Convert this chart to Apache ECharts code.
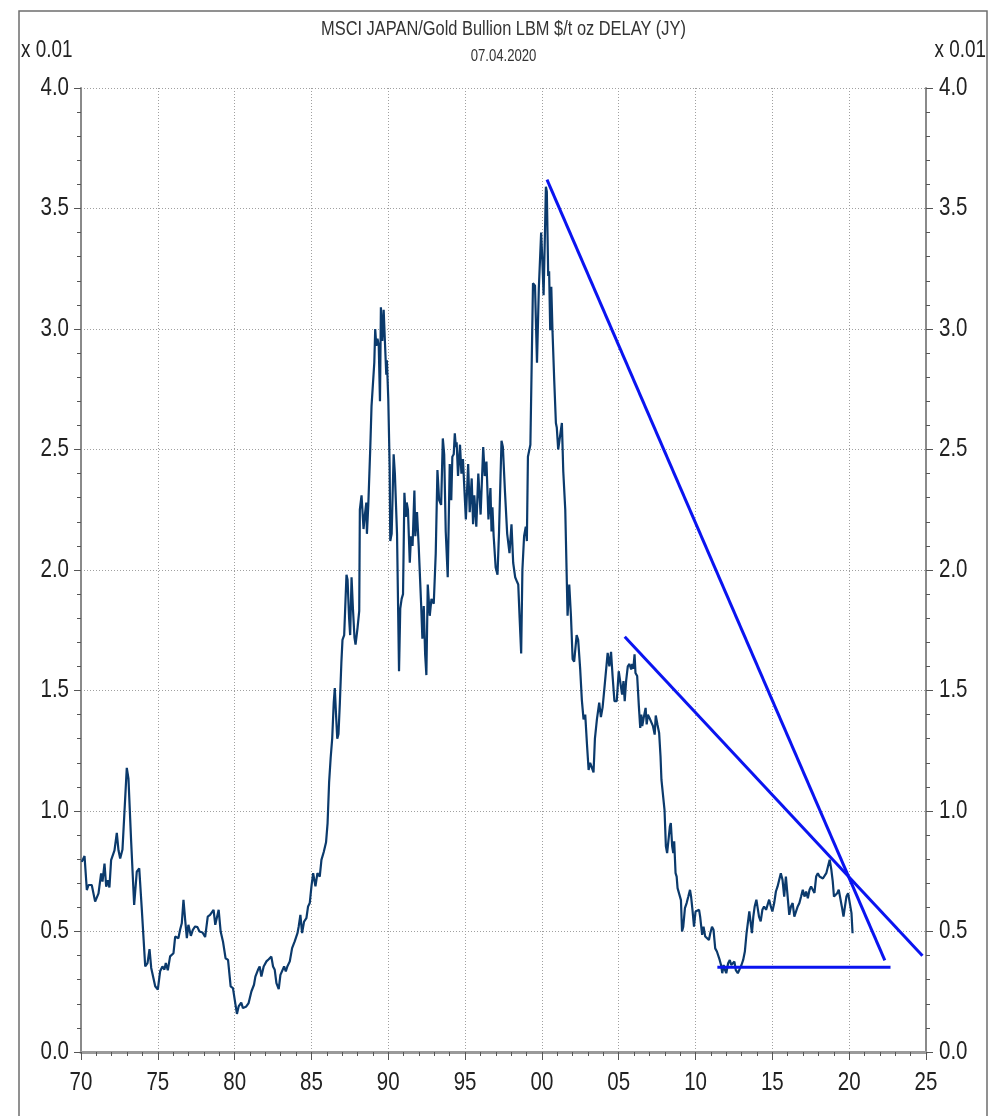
<!DOCTYPE html>
<html>
<head>
<meta charset="utf-8">
<title>MSCI JAPAN / Gold Bullion</title>
<script src="https://cdn.jsdelivr.net/npm/echarts/dist/echarts.min.js"></script>
<style>
  html, body { margin: 0; padding: 0; background: #ffffff; }
  #chart { width: 1002px; height: 1116px; }
</style>
</head>
<body>
<div id="chart"></div>
<script>
// MSCI Japan priced in gold (LBM $/t oz), scaled by 0.01
const years = [
  1970.05, 1970.23, 1970.38, 1970.49, 1970.70, 1970.92, 1971.14, 1971.31, 1971.40, 1971.53,
  1971.64, 1971.75, 1971.85, 1971.96, 1972.18, 1972.33, 1972.44, 1972.55, 1972.70, 1972.81,
  1972.98, 1973.09, 1973.26, 1973.46, 1973.63, 1973.79, 1973.96, 1974.18, 1974.33, 1974.46,
  1974.57, 1974.70, 1974.83, 1975.00, 1975.15, 1975.30, 1975.43, 1975.52, 1975.65, 1975.80,
  1976.02, 1976.13, 1976.34, 1976.45, 1976.56, 1976.67, 1976.78, 1976.89, 1976.99, 1977.15,
  1977.28, 1977.43, 1977.58, 1977.71, 1977.91, 1978.08, 1978.25, 1978.40, 1978.52, 1978.63,
  1978.74, 1978.96, 1979.09, 1979.24, 1979.41, 1979.57, 1979.74, 1979.89, 1980.04, 1980.15,
  1980.26, 1980.43, 1980.54, 1980.76, 1980.91, 1981.09, 1981.26, 1981.35, 1981.52, 1981.63,
  1981.74, 1981.89, 1982.07, 1982.22, 1982.39, 1982.50, 1982.61, 1982.72, 1982.87, 1982.98,
  1983.09, 1983.22, 1983.33, 1983.43, 1983.59, 1983.74, 1983.91, 1984.09, 1984.17, 1984.28,
  1984.39, 1984.52, 1984.67, 1984.78, 1984.89, 1985.00, 1985.11, 1985.26, 1985.39, 1985.54,
  1985.65, 1985.80, 1985.95, 1986.05, 1986.15, 1986.25, 1986.35, 1986.45, 1986.52, 1986.60,
  1986.68, 1986.76, 1986.85, 1986.95, 1987.02, 1987.13, 1987.28, 1987.35, 1987.45, 1987.52,
  1987.61, 1987.70, 1987.80, 1987.87, 1988.00, 1988.11, 1988.15, 1988.26, 1988.39, 1988.48,
  1988.57, 1988.61, 1988.70, 1988.83, 1988.91, 1989.09, 1989.15, 1989.22, 1989.30, 1989.38,
  1989.46, 1989.52, 1989.61, 1989.70, 1989.78, 1989.87, 1989.91, 1990.00, 1990.09, 1990.13,
  1990.22, 1990.35, 1990.43, 1990.57, 1990.70, 1990.78, 1990.87, 1990.96, 1991.05, 1991.14,
  1991.20, 1991.28, 1991.40, 1991.48, 1991.58, 1991.70, 1991.76, 1991.87, 1991.98, 1992.14,
  1992.22, 1992.31, 1992.40, 1992.48, 1992.57, 1992.70, 1992.81, 1992.96, 1993.09, 1993.20,
  1993.31, 1993.44, 1993.55, 1993.64, 1993.74, 1993.87, 1994.00, 1994.10, 1994.17, 1994.26,
  1994.33, 1994.40, 1994.45, 1994.54, 1994.67, 1994.76, 1994.86, 1995.05, 1995.20, 1995.30,
  1995.43, 1995.52, 1995.60, 1995.73, 1995.86, 1996.01, 1996.18, 1996.28, 1996.39, 1996.52,
  1996.65, 1996.72, 1996.78, 1996.86, 1996.99, 1997.11, 1997.21, 1997.37, 1997.46, 1997.60,
  1997.74, 1997.89, 1998.02, 1998.13, 1998.26, 1998.39, 1998.46, 1998.55, 1998.65, 1998.73,
  1998.84, 1998.95, 1999.02, 1999.09, 1999.25, 1999.33, 1999.42, 1999.55, 1999.68, 1999.80,
  1999.95, 2000.02, 2000.11, 2000.20, 2000.26, 2000.32, 2000.41, 2000.47, 2000.54, 2000.61,
  2000.69, 2000.80, 2000.91, 2000.97, 2001.06, 2001.18, 2001.30, 2001.39, 2001.52, 2001.67,
  2001.78, 2001.89, 2002.00, 2002.10, 2002.26, 2002.36, 2002.49, 2002.60, 2002.71, 2002.82,
  2002.93, 2003.04, 2003.14, 2003.25, 2003.36, 2003.45, 2003.58, 2003.73, 2003.84, 2003.95,
  2004.06, 2004.17, 2004.28, 2004.39, 2004.50, 2004.60, 2004.72, 2004.87, 2005.00, 2005.10,
  2005.22, 2005.31, 2005.39, 2005.48, 2005.59, 2005.70, 2005.81, 2005.88, 2005.95, 2006.03,
  2006.09, 2006.20, 2006.31, 2006.40, 2006.47, 2006.53, 2006.62, 2006.75, 2006.82, 2006.90,
  2007.01, 2007.12, 2007.23, 2007.34, 2007.41, 2007.52, 2007.63, 2007.72, 2007.78, 2007.89,
  2007.98, 2008.07, 2008.15, 2008.26, 2008.33, 2008.39, 2008.48, 2008.55, 2008.61, 2008.70,
  2008.77, 2008.83, 2008.94, 2009.05, 2009.12, 2009.20, 2009.31, 2009.42, 2009.53, 2009.64,
  2009.71, 2009.80, 2009.90, 2010.00, 2010.12, 2010.23, 2010.30, 2010.43, 2010.52, 2010.63,
  2010.74, 2010.87, 2010.96, 2011.07, 2011.17, 2011.28, 2011.39, 2011.48, 2011.57, 2011.66,
  2011.74, 2011.83, 2011.92, 2012.00, 2012.12, 2012.23, 2012.32, 2012.40, 2012.53, 2012.62,
  2012.75, 2012.88, 2012.99, 2013.10, 2013.21, 2013.32, 2013.41, 2013.50, 2013.58, 2013.67,
  2013.76, 2013.85, 2013.96, 2014.02, 2014.13, 2014.24, 2014.35, 2014.46, 2014.59, 2014.68,
  2014.79, 2014.90, 2015.00, 2015.12, 2015.23, 2015.34, 2015.45, 2015.55, 2015.66, 2015.77,
  2015.88, 2015.99, 2016.10, 2016.21, 2016.32, 2016.43, 2016.54, 2016.65, 2016.76, 2016.87,
  2016.98, 2017.09, 2017.20, 2017.31, 2017.42, 2017.52, 2017.63, 2017.74, 2017.85, 2017.96,
  2018.07, 2018.18, 2018.29, 2018.40, 2018.51, 2018.62, 2018.73, 2018.84, 2018.93, 2019.01,
  2019.12, 2019.22, 2019.32, 2019.41, 2019.52, 2019.63, 2019.71, 2019.82, 2019.93, 2020.04,
  2020.15, 2020.22
];

const ratio = [
  0.789, 0.813, 0.672, 0.693, 0.693, 0.624, 0.658, 0.741, 0.707, 0.782,
  0.686, 0.713, 0.683, 0.796, 0.837, 0.909, 0.837, 0.803, 0.840, 0.844,
  1.179, 1.134, 0.879, 0.610, 0.748, 0.762, 0.590, 0.355, 0.369, 0.427,
  0.349, 0.342, 0.273, 0.259, 0.335, 0.355, 0.342, 0.369, 0.339, 0.397,
  0.410, 0.479, 0.472, 0.507, 0.534, 0.631, 0.548, 0.472, 0.528, 0.482,
  0.507, 0.521, 0.518, 0.500, 0.496, 0.477, 0.562, 0.569, 0.576, 0.590,
  0.528, 0.590, 0.500, 0.459, 0.389, 0.382, 0.272, 0.265, 0.203, 0.158,
  0.189, 0.205, 0.182, 0.189, 0.203, 0.251, 0.279, 0.313, 0.341, 0.355,
  0.313, 0.355, 0.376, 0.385, 0.396, 0.355, 0.341, 0.286, 0.261, 0.320,
  0.327, 0.355, 0.334, 0.355, 0.376, 0.431, 0.459, 0.493, 0.521, 0.569,
  0.493, 0.541, 0.555, 0.604, 0.618, 0.687, 0.742, 0.687, 0.742, 0.728,
  0.797, 0.830, 0.870, 0.950, 1.120, 1.220, 1.300, 1.450, 1.510, 1.400,
  1.300, 1.320, 1.450, 1.620, 1.710, 1.730, 1.980, 1.960, 1.800, 1.730,
  1.970, 1.840, 1.720, 1.690, 1.760, 1.830, 2.250, 2.310, 2.170, 2.230,
  2.280, 2.150, 2.270, 2.510, 2.680, 2.860, 3.000, 2.930, 2.960, 2.930,
  2.700, 3.090, 2.950, 3.080, 2.950, 2.810, 2.870, 2.710, 2.430, 2.120,
  2.150, 2.480, 2.400, 2.150, 1.580, 1.840, 1.880, 1.900, 2.320, 2.220,
  2.280, 2.250, 2.030, 2.140, 2.100, 2.330, 2.140, 2.240, 2.100, 1.855,
  1.715, 1.850, 1.650, 1.564, 1.940, 1.810, 1.880, 1.860, 2.070, 2.415,
  2.290, 2.270, 2.546, 2.480, 2.160, 1.970, 2.440, 2.290, 2.470, 2.480,
  2.567, 2.510, 2.530, 2.390, 2.520, 2.400, 2.460, 2.210, 2.440, 2.240,
  2.380, 2.190, 2.310, 2.180, 2.400, 2.230, 2.510, 2.390, 2.450, 2.210,
  2.340, 2.160, 2.260, 2.140, 2.010, 1.980, 2.160, 2.536, 2.510, 2.320,
  2.150, 2.070, 2.190, 2.030, 1.970, 1.950, 1.940, 1.800, 1.654, 2.000,
  2.140, 2.180, 2.120, 2.470, 2.520, 2.520, 3.190, 3.180, 2.860, 3.170,
  3.400, 3.300, 3.140, 3.400, 3.590, 3.570, 3.220, 3.240, 2.995, 3.175,
  2.990, 2.790, 2.610, 2.590, 2.500, 2.500, 2.610, 2.410, 2.250, 1.810,
  1.940, 1.810, 1.630, 1.620, 1.730, 1.710, 1.590, 1.460, 1.380, 1.400,
  1.280, 1.170, 1.200, 1.180, 1.160, 1.300, 1.380, 1.450, 1.390, 1.430,
  1.504, 1.580, 1.656, 1.600, 1.660, 1.560, 1.456, 1.456, 1.580, 1.575,
  1.483, 1.539, 1.456, 1.539, 1.600, 1.610, 1.587, 1.610, 1.590, 1.650,
  1.573, 1.560, 1.435, 1.345, 1.400, 1.352, 1.385, 1.428, 1.359, 1.400,
  1.385, 1.392, 1.352, 1.317, 1.396, 1.359, 1.324, 1.227, 1.130, 1.123,
  1.005, 0.853, 0.825, 0.825, 0.936, 0.950, 0.853, 0.825, 0.874, 0.742,
  0.728, 0.680, 0.673, 0.630, 0.500, 0.520, 0.597, 0.618, 0.645, 0.673,
  0.645, 0.590, 0.520, 0.583, 0.576, 0.590, 0.562, 0.486, 0.520, 0.479,
  0.472, 0.465, 0.493, 0.520, 0.507, 0.430, 0.417, 0.424, 0.382, 0.361,
  0.327, 0.361, 0.340, 0.327, 0.368, 0.382, 0.361, 0.361, 0.375, 0.340,
  0.327, 0.334, 0.361, 0.382, 0.417, 0.493, 0.500, 0.583, 0.576, 0.493,
  0.562, 0.604, 0.632, 0.638, 0.562, 0.542, 0.590, 0.604, 0.590, 0.597,
  0.632, 0.604, 0.583, 0.618, 0.666, 0.687, 0.694, 0.742, 0.715, 0.645,
  0.728, 0.735, 0.569, 0.604, 0.618, 0.562, 0.555, 0.604, 0.618, 0.645,
  0.673, 0.645, 0.666, 0.638, 0.673, 0.687, 0.680, 0.660, 0.728, 0.742,
  0.728, 0.735, 0.720, 0.728, 0.742, 0.770, 0.798, 0.756, 0.708, 0.645,
  0.652, 0.659, 0.673, 0.680, 0.604, 0.562, 0.597, 0.645, 0.659, 0.618,
  0.576, 0.493
];

// Hand-drawn trend lines: [year, value] end points
const trendFromPeak = [[2000.33, 3.62], [2022.32, 0.38]];
const trendFrom2005 = [[2005.39, 1.723], [2024.77, 0.399]];
const supportLine = [[2011.42, 0.352], [2022.69, 0.352]];

// Tick positions and their printed labels
const yearTicks = [1970, 1975, 1980, 1985, 1990, 1995, 2000, 2005, 2010, 2015, 2020, 2025];
const yearLabels = ['70', '75', '80', '85', '90', '95', '00', '05', '10', '15', '20', '25'];
const valueTicks = [0, 0.5, 1, 1.5, 2, 2.5, 3, 3.5, 4];
const valueLabels = ['0.0', '0.5', '1.0', '1.5', '2.0', '2.5', '3.0', '3.5', '4.0'];

const FONT = "'Liberation Sans', Arial, sans-serif";
const NARROW = 0.82;               // horizontal squeeze for a narrow face
const TEXT_COLOR = '#222222';
const GRID_LINE = { show: true, lineStyle: { color: '#a0a0a0', width: 1, type: [1, 2] } };

const chart = echarts.init(document.getElementById('chart'), null, { renderer: 'canvas' });

const yAxisBase = {
  type: 'value',
  min: valueTicks[0],
  max: valueTicks[valueTicks.length - 1],
  interval: 0.5,
  axisLine: { show: true, lineStyle: { color: '#8a8a8a', width: 2 } },
  axisTick: { show: true, length: 7, lineStyle: { color: '#555', width: 1 } },
  minorTick: { show: true, splitNumber: 5, length: 4, lineStyle: { color: '#555', width: 1 } },
  axisLabel: { show: false }
};

chart.setOption({
  backgroundColor: '#ffffff',
  animation: false,
  grid: { left: 81, right: 76, top: 88, bottom: 64, containLabel: false },
  xAxis: {
    type: 'value',
    min: yearTicks[0],
    max: yearTicks[yearTicks.length - 1],
    interval: 5,
    axisLine: { show: true, onZero: false, lineStyle: { color: '#9a9a9a', width: 3 } },
    axisTick: { show: true, length: 8, lineStyle: { color: '#555', width: 1 } },
    minorTick: { show: true, splitNumber: 5, length: 4, lineStyle: { color: '#555', width: 1 } },
    splitLine: GRID_LINE,
    axisLabel: { show: false }
  },
  yAxis: [
    Object.assign({}, yAxisBase, { position: 'left', splitLine: GRID_LINE }),
    Object.assign({}, yAxisBase, { position: 'right', splitLine: { show: false } })
  ],
  series: [
    {
      name: 'MSCI JAPAN/Gold',
      type: 'line',
      data: years.map((y, i) => [y, ratio[i]]),
      showSymbol: false,
      lineStyle: { color: '#0b3a6c', width: 2.2 },
      z: 3
    },
    {
      type: 'line', data: trendFromPeak, showSymbol: false,
      lineStyle: { color: '#0a14f0', width: 3 }, z: 4
    },
    {
      type: 'line', data: trendFrom2005, showSymbol: false,
      lineStyle: { color: '#0a14f0', width: 3 }, z: 4
    },
    {
      type: 'line', data: supportLine, showSymbol: false,
      lineStyle: { color: '#0a14f0', width: 3 }, z: 4
    }
  ]
});

// Narrow text drawn as squeezed graphic text, placed through the axis scales
function narrowText(x, y, text, size, align, vAlign, color) {
  return {
    type: 'text', silent: true, x: x, y: y, scaleX: NARROW, scaleY: 1,
    style: {
      text: text, x: 0, y: 0, fontFamily: FONT, fontSize: size,
      fill: color || TEXT_COLOR, align: align, verticalAlign: vAlign
    }
  };
}

const toPx = (x, y) => chart.convertToPixel({ xAxisIndex: 0, yAxisIndex: 0 }, [x, y]);
const xMin = yearTicks[0], xMax = yearTicks[yearTicks.length - 1];
const bottomY = toPx(xMin, 0)[1];
const leftX = toPx(xMin, 0)[0];
const rightX = toPx(xMax, 0)[0];
const topY = toPx(xMin, valueTicks[valueTicks.length - 1])[1];
const midX = (leftX + rightX) / 2;

const graphics = [
  {
    type: 'rect', silent: true,
    shape: { x: 19, y: 11, width: 968, height: 1120 },
    style: { fill: 'none', stroke: '#6e6e6e', lineWidth: 1.5 }
  },
  narrowText(midX, 29, 'MSCI JAPAN/Gold Bullion LBM $/t oz DELAY (JY)', 20, 'center', 'middle', '#333'),
  narrowText(midX, 57, '07.04.2020', 16, 'center', 'middle', '#333'),
  narrowText(21, topY - 37, 'x 0.01', 23, 'left', 'middle'),
  narrowText(986, topY - 37, 'x 0.01', 23, 'right', 'middle')
];

yearTicks.forEach((t, i) => {
  const p = toPx(t, 0);
  graphics.push(narrowText(p[0], bottomY + 31, yearLabels[i], 25, 'center', 'middle'));
});
valueTicks.forEach((v, i) => {
  const p = toPx(xMin, v);
  graphics.push(narrowText(leftX - 12, p[1], valueLabels[i], 25, 'right', 'middle'));
  graphics.push(narrowText(rightX + 13, p[1], valueLabels[i], 25, 'left', 'middle'));
});

chart.setOption({ graphic: graphics });
</script>
</body>
</html>
